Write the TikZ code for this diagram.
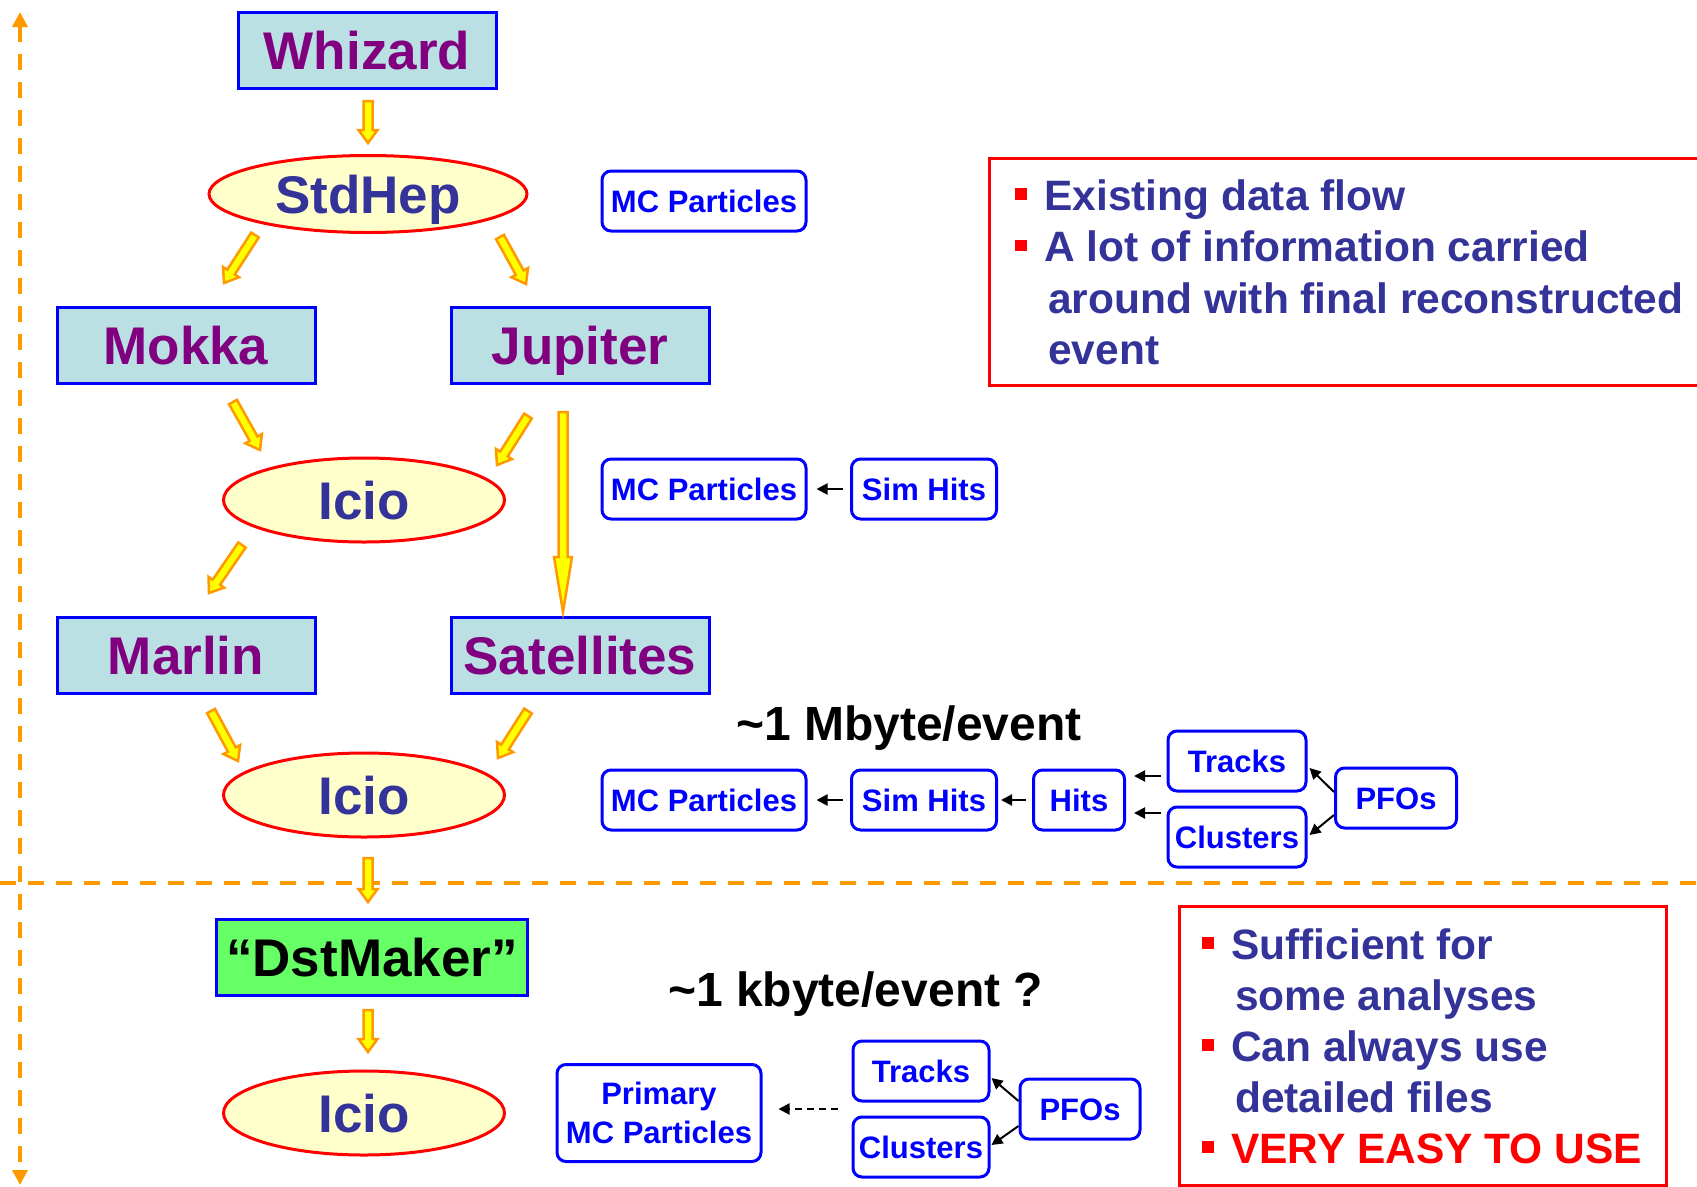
\documentclass[tikz,border=0pt]{standalone}
\usepackage{fontspec}
\setmainfont{Liberation Sans}
\usetikzlibrary{calc,arrows.meta,shapes.geometric}
\definecolor{boxcyan}{HTML}{BBE0E3}
\definecolor{purp}{HTML}{800080}
\definecolor{lyel}{HTML}{FFFFCC}
\definecolor{dblue}{HTML}{333399}
\definecolor{lgreen}{HTML}{66FF66}
\definecolor{orng}{HTML}{FF9900}
\definecolor{yel}{HTML}{FFFF00}
\newcommand\fBig{\fontsize{53}{60}\selectfont\bfseries}
\newcommand\fSmall{\fontsize{31}{39}\selectfont\bfseries}
\newcommand\fNote{\fontsize{42.5}{51.5}\selectfont\bfseries}
\newcommand\fLabel{\fontsize{48}{56}\selectfont\bfseries}
\newcommand\bul{{\color{red}\rule[10.5pt]{11.5pt}{11.5pt}}\hspace{17.5pt}}
\newcommand\blockarr[5]{%
  \coordinate (bH) at ($(#2)!#5!(#1)$);
  \filldraw[barrow] ($(#1)!#3!90:(#2)$) -- ($(bH)!#3!90:(#2)$) -- ($(bH)!#4!90:(#2)$) -- (#2)
    -- ($(bH)!#4!-90:(#2)$) -- ($(bH)!#3!-90:(#2)$) -- ($(#1)!#3!-90:(#2)$) -- cycle;
}
\begin{document}
\begin{tikzpicture}[x=1pt,y=-1pt,
  bigbox/.style={draw=blue, fill=boxcyan, line width=3pt, minimum width=258pt, minimum height=76pt, inner sep=0pt, text=purp, font=\fBig, text height=38pt, text depth=0pt},
  ell/.style={ellipse, draw=red, fill=lyel, line width=3pt, inner sep=0pt, text=dblue, font=\fBig, text height=38pt, text depth=0pt},
  sbox/.style={draw=blue, fill=white, rounded corners=9pt, line width=3pt, inner sep=0pt, text=blue, font=\fSmall, minimum height=60pt},
  sline/.style={text height=22pt, text depth=0pt},
  sarr/.style={-{Triangle[length=11pt,width=11pt]}, line width=2pt, black},
  barrow/.style={fill=yel, draw=orng, line width=2.5pt, line join=miter},
  axis/.style={draw=orng, line width=4pt, dash pattern=on 16pt off 12pt},
  notebox/.style={draw=red, line width=3pt, inner sep=0pt},
  notetext/.style={anchor=base west, inner sep=0pt, font=\fNote, text=dblue},
  lbl/.style={anchor=base west, inner sep=0pt, font=\fLabel, text=black}
]
\useasboundingbox (0,0) rectangle (1697,1186);
\clip (0,0) rectangle (1697,1186);
\fill[white] (0,0) rectangle (1697,1186);

% dashed axes
\coordinate (axT) at (20,12);
\coordinate (axB) at (20,1185);
\draw[axis, {Triangle[length=15pt,width=15pt]}-{Triangle[length=15pt,width=15pt]}] (axT) -- (axB);
\coordinate (hL) at (0,883);
\coordinate (hR) at (1697,883);
\draw[axis] (hL) -- (hR);

% main flow nodes
\node[bigbox] (whizard) at (367,50) {Whizard};
\node[ell, minimum width=318pt, minimum height=77pt] (stdhep) at (368,194) {StdHep};
\node[bigbox] (mokka) at (186,345) {Mokka};
\node[bigbox] (jupiter) at (580,345) {Jupiter};
\node[ell, minimum width=281pt, minimum height=84pt] (icio1) at (364,500) {Icio};
\node[bigbox] (marlin) at (186,655) {Marlin};
\node[bigbox] (sat) at (580,655) {Satellites};
\node[ell, minimum width=281pt, minimum height=84pt] (icio2) at (364,795) {Icio};
\node[bigbox, fill=lgreen, text=black, minimum width=311pt] (dst) at (372,957) {“DstMaker”};
\node[ell, minimum width=281pt, minimum height=84pt] (icio3) at (364,1113) {Icio};

% block arrows
\coordinate (b1s) at (368,101);  \coordinate (b1e) at (368,143);
\coordinate (b2s) at (255,235);  \coordinate (b2e) at (224,283);
\coordinate (b3s) at (500,237);  \coordinate (b3e) at (526,284);
\coordinate (b4s) at (233,402);  \coordinate (b4e) at (260,450);
\coordinate (b5s) at (528,416);  \coordinate (b5e) at (497,465);
\coordinate (b6s) at (563,412);  \coordinate (b6e) at (563,612);
\coordinate (b7s) at (242,545);  \coordinate (b7e) at (209,593);
\coordinate (b8s) at (211,711);  \coordinate (b8e) at (238,761);
\coordinate (b9s) at (528,711);  \coordinate (b9e) at (498,758);
\coordinate (b10s) at (368,858); \coordinate (b10e) at (368,902);
\coordinate (b11s) at (368,1010); \coordinate (b11e) at (368,1052);
\blockarr{b1s}{b1e}{4.5pt}{9.5pt}{13pt}
\blockarr{b2s}{b2e}{4.5pt}{9.5pt}{13pt}
\blockarr{b3s}{b3e}{4.5pt}{9.5pt}{13pt}
\blockarr{b4s}{b4e}{4.5pt}{9.5pt}{13pt}
\blockarr{b5s}{b5e}{4.5pt}{9.5pt}{13pt}
\blockarr{b6s}{b6e}{4.5pt}{9pt}{55pt}
\blockarr{b7s}{b7e}{4.5pt}{9.5pt}{13pt}
\blockarr{b8s}{b8e}{4.5pt}{9.5pt}{13pt}
\blockarr{b9s}{b9e}{4.5pt}{9.5pt}{13pt}
\blockarr{b10s}{b10e}{4.5pt}{9.5pt}{13pt}
\blockarr{b11s}{b11e}{4.5pt}{9.5pt}{13pt}

% data boxes
\node[sbox, sline, minimum width=204pt] (mc1) at (704,201) {MC Particles};
\node[sbox, sline, minimum width=204pt] (mc2) at (704,489) {MC Particles};
\node[sbox, sline, minimum width=145pt] (sh2) at (924,489) {Sim Hits};
\node[sbox, sline, minimum width=204pt] (mc3) at (704,800) {MC Particles};
\node[sbox, sline, minimum width=145pt] (sh3) at (924,800) {Sim Hits};
\node[sbox, sline, minimum width=91pt] (hits) at (1079,800) {Hits};
\node[sbox, sline, minimum width=138pt] (tracks) at (1237,761) {Tracks};
\node[sbox, sline, minimum width=138pt] (clusters) at (1237,837) {Clusters};
\node[sbox, sline, minimum width=121pt] (pfos) at (1396,798) {PFOs};

\node[sbox, align=center, minimum width=204pt, minimum height=97pt] (prim) at (659,1113) {Primary\\MC Particles};
\node[sbox, sline, minimum width=136pt] (tracks4) at (921,1071) {Tracks};
\node[sbox, sline, minimum width=136pt] (clusters4) at (921,1147) {Clusters};
\node[sbox, sline, minimum width=120pt] (pfos4) at (1080,1109) {PFOs};

% small arrows
\draw[sarr, shorten <=7pt, shorten >=9pt] (sh2) -- (mc2);
\draw[sarr, shorten <=7pt, shorten >=9pt] (sh3) -- (mc3);
\draw[sarr, shorten <=6pt, shorten >=3pt] (hits) -- (sh3);
\draw[sarr] ($(tracks.west)+(-6,15)$) -- ($(hits.east)+(8,-24)$);
\draw[sarr] ($(clusters.west)+(-6,-24)$) -- ($(hits.east)+(8,13)$);
\draw[sarr] ($(pfos.west)+(0,-6)$) -- ($(tracks.east)+(2,7)$);
\draw[sarr] ($(pfos.west)+(0,17)$) -- ($(clusters.east)+(2,-2)$);
\draw[sarr, dash pattern=on 7pt off 5pt] ($(tracks4.west)!0.5!(clusters4.west)+(-14,0)$) -- ($(prim.east)+(16,-4)$);
\draw[sarr] ($(pfos4.west)+(0,-8)$) -- ($(tracks4.east)+(1,7)$);
\draw[sarr] ($(pfos4.west)+(0,17)$) -- ($(clusters4.east)+(1,-2)$);

% labels
\node[lbl] (mbyte) at (736,740) {\textasciitilde 1 Mbyte/event};
\node[lbl] (kbyte) at (668,1006) {\textasciitilde 1 kbyte/event ?};

% note boxes
\node[notebox, anchor=north west, minimum width=740pt, minimum height=227pt] (note1) at (988,157) {};
\node[notetext] (n1a) at (1015,210) {\bul Existing data flow};
\node[notetext] (n1b) at (1015,261.5) {\bul A lot of information carried};
\node[notetext] (n1c) at (1048,313) {around with final reconstructed};
\node[notetext] (n1d) at (1048,364.5) {event};

\node[notebox, anchor=north west, minimum width=487pt, minimum height=279pt] (note2) at (1178,905) {};
\node[notetext] (n2a) at (1202,959) {\bul Sufficient for};
\node[notetext] (n2b) at (1235,1010) {some analyses};
\node[notetext] (n2c) at (1202,1061) {\bul Can always use};
\node[notetext] (n2d) at (1235,1112) {detailed files};
\node[notetext, text=red] (n2e) at (1202,1163) {\bul VERY EASY TO USE};
\end{tikzpicture}
\end{document}
